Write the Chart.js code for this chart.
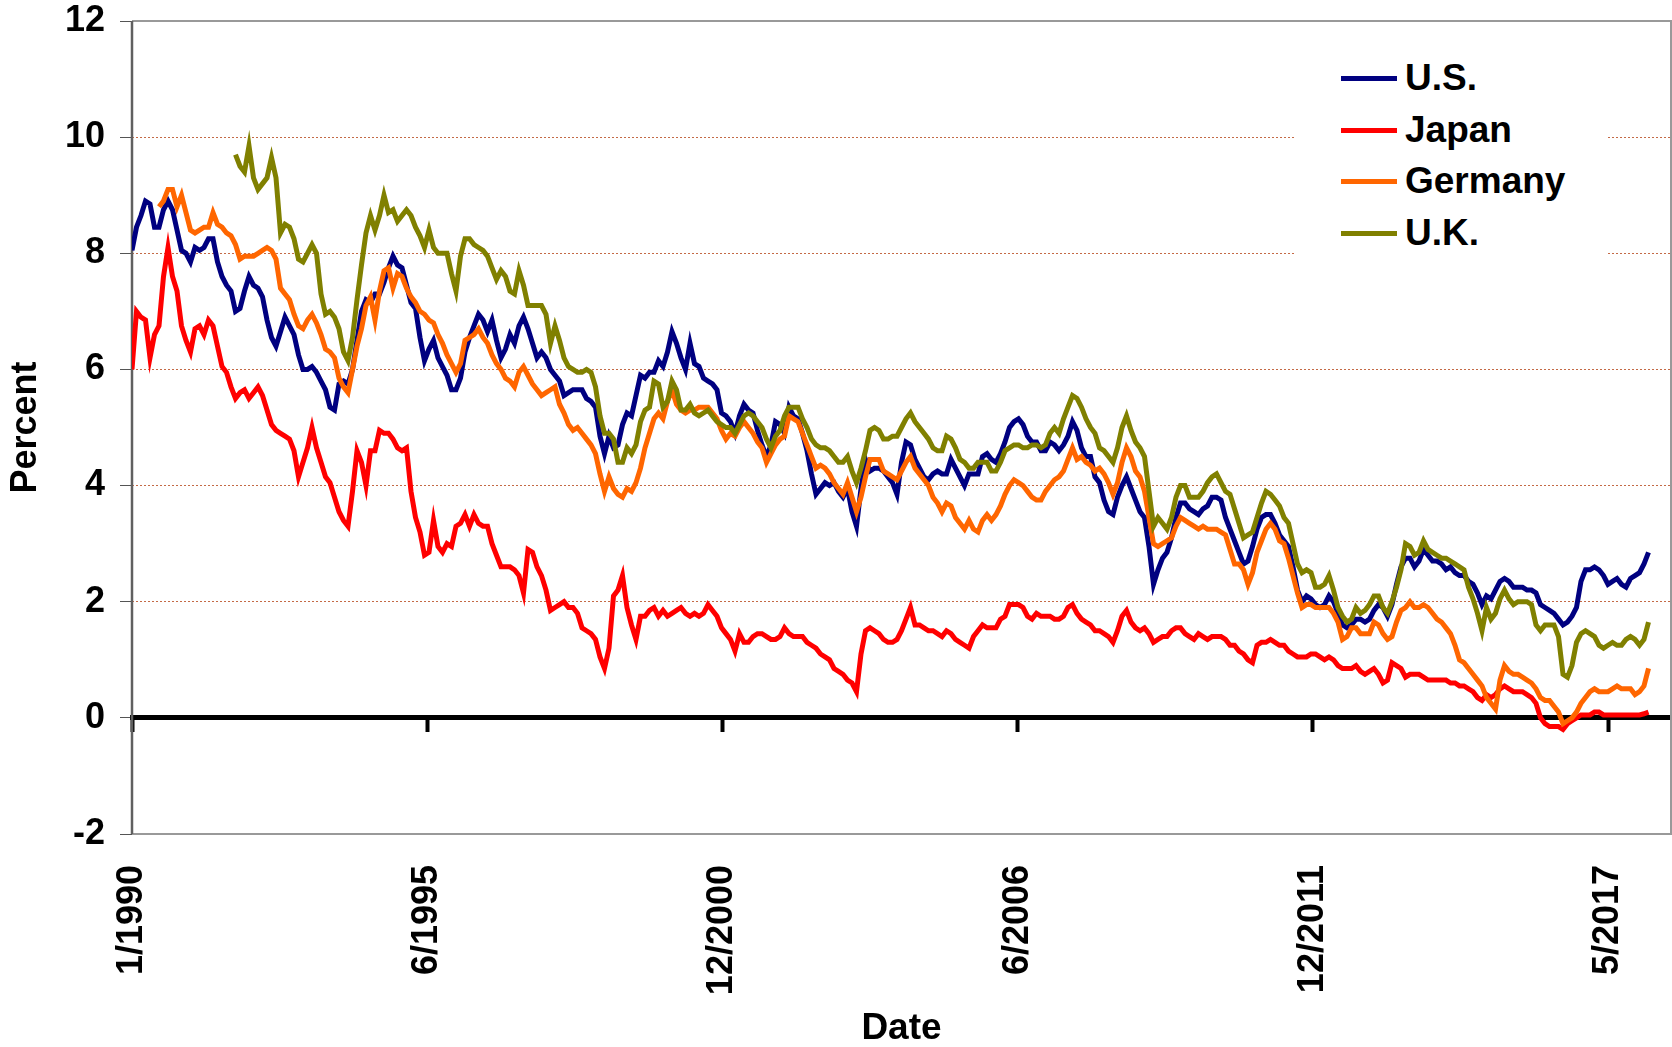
<!DOCTYPE html>
<html>
<head>
<meta charset="utf-8">
<script src="https://cdn.jsdelivr.net/npm/chart.js@4/dist/chart.umd.min.js"></script>
<style>
html,body{margin:0;padding:0;background:#fff;overflow:hidden;}
#wrap{position:relative;width:1672px;height:1047px;}
#legend{position:absolute;left:1296px;top:52px;width:311px;height:215px;background:#fff;
  font-family:"Liberation Sans",Arial,sans-serif;font-weight:bold;font-size:37px;color:#000;}
.item{position:absolute;left:45px;height:40px;line-height:40px;white-space:nowrap;}
.swatch{display:inline-block;width:56px;height:5px;vertical-align:middle;margin-right:8px;position:relative;top:-2px;}
</style>
</head>
<body>
<div id="wrap">
<canvas id="c" width="1672" height="1047"></canvas>
<div id="legend"></div>
</div>
<script>
// ---- data (monthly, starting 1/1990) ----
const tickLabels = ['1/1990','6/1995','12/2000','6/2006','12/2011','5/2017'];
const seriesNames = ['U.S.','Japan','Germany','U.K.'];
const seriesColors = ['#000080','#FF0000','#FF6600','#808000'];

const usYield = [
8.05,8.45,8.65,8.9,8.85,8.45,8.45,8.75,8.9,8.75,8.4,8.05,
8.0,7.85,8.1,8.05,8.1,8.25,8.25,7.85,7.6,7.45,7.35,7.0,
7.05,7.35,7.6,7.45,7.4,7.25,6.85,6.55,6.4,6.65,6.9,6.75,
6.6,6.25,6.0,6.0,6.05,5.95,5.8,5.65,5.35,5.3,5.75,5.8,
5.75,6.0,6.5,7.0,7.2,7.15,7.3,7.3,7.5,7.75,7.95,7.8,
7.75,7.45,7.15,7.05,6.55,6.15,6.35,6.5,6.2,6.05,5.9,5.65,
5.65,5.85,6.3,6.55,6.75,6.95,6.85,6.65,6.85,6.5,6.2,6.35,
6.6,6.45,6.75,6.9,6.7,6.45,6.2,6.3,6.2,6.0,5.9,5.8,
5.55,5.6,5.65,5.65,5.65,5.5,5.45,5.35,4.85,4.55,4.85,4.65,
4.7,5.05,5.25,5.2,5.55,5.9,5.85,5.95,5.95,6.15,6.05,6.3,
6.65,6.45,6.2,6.0,6.45,6.1,6.05,5.85,5.8,5.75,5.65,5.25,
5.2,5.1,4.9,5.2,5.4,5.3,5.25,4.95,4.7,4.5,4.7,5.1,
5.05,4.9,5.35,5.2,5.15,4.9,4.6,4.2,3.85,3.95,4.05,4.0,
4.05,3.9,3.8,3.95,3.55,3.3,3.95,4.45,4.25,4.3,4.3,4.25,
4.15,4.05,3.85,4.4,4.75,4.7,4.45,4.3,4.15,4.1,4.2,4.25,
4.2,4.2,4.45,4.3,4.15,4.0,4.2,4.2,4.2,4.5,4.55,4.45,
4.4,4.55,4.75,5.0,5.1,5.15,5.05,4.85,4.75,4.75,4.6,4.6,
4.75,4.7,4.6,4.7,4.85,5.1,4.95,4.65,4.5,4.5,4.15,4.05,
3.75,3.55,3.5,3.8,4.0,4.15,3.95,3.75,3.55,3.45,2.95,2.3,
2.55,2.75,2.85,3.1,3.45,3.7,3.7,3.6,3.55,3.5,3.6,3.65,
3.8,3.8,3.75,3.45,3.25,3.05,2.85,2.65,2.7,2.95,3.25,3.45,
3.5,3.5,3.35,3.15,3.05,2.95,2.6,2.2,2.0,2.1,2.05,1.95,
1.9,1.95,2.1,2.0,1.8,1.6,1.55,1.6,1.7,1.7,1.65,1.7,
1.85,1.95,1.9,1.75,1.95,2.3,2.6,2.75,2.75,2.6,2.7,2.9,
2.8,2.7,2.7,2.65,2.55,2.6,2.5,2.45,2.45,2.35,2.3,2.15,
1.95,2.1,2.05,2.2,2.35,2.4,2.35,2.25,2.25,2.25,2.2,2.2,
2.15,1.95,1.9,1.85,1.8,1.7,1.6,1.65,1.75,1.9,2.35,2.55,
2.55,2.6,2.55,2.45,2.3,2.35,2.4,2.3,2.25,2.4,2.45,2.5,
2.65,2.85];

const japanYield = [
6.0,7.0,6.9,6.85,6.2,6.6,6.75,7.6,8.1,7.6,7.35,6.75,
6.5,6.3,6.7,6.75,6.6,6.85,6.75,6.4,6.05,5.95,5.7,5.5,
5.6,5.65,5.5,5.6,5.7,5.55,5.3,5.05,4.95,4.9,4.85,4.8,
4.6,4.15,4.4,4.65,5.0,4.65,4.4,4.15,4.05,3.8,3.55,3.4,
3.3,3.9,4.6,4.4,4.0,4.6,4.6,4.95,4.9,4.9,4.8,4.65,
4.6,4.65,3.9,3.45,3.2,2.8,2.85,3.4,2.95,2.85,3.0,2.95,
3.3,3.35,3.5,3.3,3.5,3.35,3.3,3.3,3.0,2.8,2.6,2.6,
2.6,2.55,2.45,2.15,2.9,2.85,2.6,2.45,2.2,1.85,1.9,1.95,
2.0,1.9,1.9,1.8,1.55,1.5,1.45,1.35,1.05,0.85,1.2,2.1,
2.2,2.45,1.9,1.6,1.35,1.75,1.75,1.85,1.9,1.75,1.85,1.75,
1.8,1.85,1.9,1.8,1.75,1.8,1.75,1.8,1.95,1.85,1.75,1.55,
1.45,1.35,1.15,1.45,1.3,1.3,1.4,1.45,1.45,1.4,1.35,1.35,
1.4,1.55,1.45,1.4,1.4,1.4,1.3,1.25,1.2,1.1,1.05,1.0,
0.85,0.8,0.75,0.65,0.6,0.45,1.1,1.5,1.55,1.5,1.45,1.35,
1.3,1.3,1.35,1.5,1.7,1.9,1.6,1.6,1.55,1.5,1.5,1.45,
1.4,1.5,1.45,1.35,1.3,1.25,1.2,1.4,1.5,1.6,1.55,1.55,
1.55,1.7,1.75,1.95,1.95,1.95,1.9,1.75,1.7,1.8,1.75,1.75,
1.75,1.7,1.7,1.75,1.9,1.95,1.8,1.7,1.65,1.6,1.5,1.5,
1.45,1.4,1.3,1.5,1.75,1.85,1.65,1.55,1.5,1.55,1.45,1.3,
1.35,1.4,1.4,1.5,1.55,1.55,1.45,1.4,1.35,1.45,1.4,1.35,
1.4,1.4,1.4,1.35,1.25,1.25,1.15,1.1,1.0,0.95,1.25,1.3,
1.3,1.35,1.3,1.25,1.25,1.15,1.1,1.05,1.05,1.05,1.1,1.1,
1.05,1.0,1.05,1.0,0.9,0.85,0.85,0.85,0.9,0.8,0.75,0.8,
0.85,0.75,0.6,0.65,0.95,0.9,0.85,0.7,0.75,0.75,0.75,0.7,
0.65,0.65,0.65,0.65,0.65,0.6,0.6,0.55,0.55,0.5,0.45,0.35,
0.3,0.4,0.35,0.4,0.5,0.55,0.5,0.45,0.45,0.45,0.4,0.35,
0.25,0.0,-0.1,-0.15,-0.15,-0.15,-0.2,-0.1,-0.05,0.0,0.05,0.05,
0.05,0.1,0.1,0.05,0.05,0.05,0.05,0.05,0.05,0.05,0.05,0.05,
0.07,0.1];

const germanyYield = [
null,null,null,null,null,null,8.8,8.9,9.1,9.1,8.8,9.0,
8.7,8.4,8.35,8.4,8.45,8.45,8.7,8.5,8.45,8.35,8.3,8.15,
7.9,7.95,7.95,7.95,8.0,8.05,8.1,8.05,7.9,7.4,7.3,7.2,
6.95,6.75,6.7,6.85,6.95,6.8,6.6,6.35,6.3,6.2,5.85,5.7,
5.6,6.0,6.4,6.7,7.1,7.25,6.85,7.35,7.7,7.75,7.4,7.65,
7.6,7.4,7.25,7.15,7.0,6.95,6.85,6.8,6.6,6.45,6.25,6.1,
5.95,6.1,6.5,6.55,6.6,6.7,6.55,6.45,6.25,6.1,6.0,5.85,
5.8,5.7,5.95,6.05,5.9,5.75,5.65,5.55,5.6,5.65,5.7,5.4,
5.25,5.05,4.95,5.0,4.9,4.8,4.7,4.55,4.2,3.9,4.15,3.95,
3.85,3.8,3.95,3.9,4.05,4.3,4.65,4.9,5.15,5.25,5.15,5.45,
5.65,5.4,5.3,5.25,5.3,5.3,5.35,5.35,5.35,5.25,5.15,4.95,
4.8,4.9,4.85,5.0,5.1,5.0,4.9,4.75,4.65,4.4,4.55,4.7,
4.8,4.85,5.2,5.15,5.1,4.9,4.7,4.5,4.3,4.35,4.3,4.2,
4.05,3.95,3.85,4.05,3.8,3.55,3.8,4.15,4.45,4.45,4.45,4.25,
4.2,4.15,4.1,4.25,4.4,4.5,4.3,4.2,4.1,4.0,3.8,3.7,
3.55,3.7,3.65,3.45,3.35,3.25,3.4,3.25,3.2,3.4,3.5,3.4,
3.5,3.65,3.85,4.0,4.1,4.05,4.0,3.9,3.8,3.75,3.75,3.9,
4.0,4.1,4.15,4.25,4.45,4.65,4.45,4.5,4.4,4.35,4.25,4.3,
4.2,4.05,3.85,4.05,4.4,4.65,4.5,4.25,4.15,3.9,3.45,3.0,
2.95,3.0,3.05,3.1,3.3,3.45,3.4,3.35,3.3,3.25,3.3,3.25,
3.25,3.25,3.2,3.15,2.9,2.65,2.65,2.55,2.3,2.5,2.85,3.05,
3.25,3.35,3.25,3.05,3.0,2.75,2.45,2.15,1.9,1.95,1.95,1.9,
1.9,1.9,1.9,1.8,1.65,1.35,1.4,1.55,1.55,1.45,1.45,1.45,
1.65,1.6,1.45,1.35,1.4,1.65,1.85,1.9,2.0,1.9,1.9,1.95,
1.9,1.8,1.7,1.65,1.55,1.45,1.25,1.0,0.95,0.85,0.75,0.65,
0.55,0.35,0.25,0.15,0.65,0.9,0.8,0.75,0.75,0.7,0.65,0.6,
0.5,0.35,0.3,0.3,0.2,0.1,-0.1,-0.05,0.0,0.1,0.25,0.35,
0.45,0.5,0.45,0.45,0.45,0.5,0.55,0.5,0.5,0.5,0.4,0.45,
0.55,0.85];

const ukYield = [
null,null,null,null,null,null,null,null,null,null,null,null,
null,null,null,null,null,null,null,null,null,null,null,9.7,
9.5,9.4,9.85,9.3,9.1,9.2,9.3,9.65,9.3,8.35,8.5,8.45,
8.25,7.9,7.85,8.0,8.15,8.0,7.3,6.95,7.0,6.9,6.7,6.3,
6.15,6.55,7.2,7.8,8.35,8.65,8.4,8.65,9.0,8.7,8.75,8.55,
8.65,8.75,8.65,8.45,8.3,8.1,8.4,8.1,8.0,8.0,8.0,7.65,
7.35,7.95,8.25,8.25,8.15,8.1,8.05,7.95,7.75,7.55,7.7,7.6,
7.35,7.3,7.7,7.45,7.1,7.1,7.1,7.1,6.95,6.45,6.75,6.5,
6.2,6.05,6.0,5.95,5.95,6.0,5.95,5.7,5.2,4.9,4.9,4.8,
4.4,4.4,4.65,4.55,4.7,5.1,5.3,5.35,5.8,5.75,5.35,5.45,
5.8,5.65,5.3,5.3,5.4,5.25,5.2,5.25,5.3,5.2,5.1,5.05,
5.0,5.0,4.9,5.05,5.2,5.25,5.2,5.1,5.0,4.8,4.65,4.85,
4.95,5.2,5.35,5.35,5.35,5.15,5.0,4.8,4.7,4.65,4.65,4.6,
4.5,4.4,4.4,4.5,4.25,4.05,4.3,4.6,4.95,5.0,4.95,4.8,
4.8,4.85,4.85,5.0,5.15,5.25,5.1,5.0,4.9,4.8,4.65,4.6,
4.6,4.85,4.8,4.65,4.45,4.4,4.3,4.3,4.4,4.4,4.4,4.25,
4.25,4.4,4.6,4.65,4.7,4.7,4.65,4.65,4.7,4.7,4.65,4.7,
4.9,5.0,4.9,5.15,5.35,5.55,5.5,5.35,5.15,5.0,4.9,4.65,
4.6,4.5,4.4,4.65,5.0,5.2,4.95,4.75,4.65,4.5,3.9,3.3,
3.45,3.35,3.25,3.45,3.8,4.0,4.0,3.8,3.8,3.8,3.9,4.05,
4.15,4.2,4.05,3.9,3.85,3.6,3.35,3.1,3.15,3.2,3.45,3.7,
3.9,3.85,3.75,3.65,3.45,3.35,3.0,2.65,2.5,2.55,2.5,2.25,
2.25,2.3,2.45,2.2,1.9,1.75,1.65,1.7,1.9,1.8,1.85,1.95,
2.1,2.1,1.9,1.8,2.0,2.25,2.55,3.0,2.95,2.8,2.85,3.05,
2.9,2.85,2.8,2.75,2.75,2.7,2.65,2.6,2.55,2.25,2.05,1.8,
1.5,1.9,1.7,1.8,2.05,2.2,2.05,1.95,2.0,2.0,2.0,1.95,
1.6,1.5,1.6,1.6,1.6,1.4,0.75,0.7,0.9,1.3,1.45,1.5,
1.45,1.4,1.25,1.2,1.25,1.3,1.25,1.25,1.35,1.4,1.35,1.25,
1.35,1.65];

// ---- helpers ----
const FONT = '"Liberation Sans", Arial, sans-serif';
const X_MAX = 342;
const monthIndex = lbl => { const p = lbl.split('/').map(Number); return (p[1] - 1990) * 12 + (p[0] - 1); };
// labelled ticks are evenly spaced (every N observations) between the first and last label
const firstIdx = monthIndex(tickLabels[0]);
const lastIdx = monthIndex(tickLabels[tickLabels.length - 1]);
const tickPos = tickLabels.map((_, i) => firstIdx + i * (lastIdx - firstIdx) / (tickLabels.length - 1));
const toPoints = arr => arr.map((v, i) => ({x: i, y: v}));
const setTicks = s => { s.ticks = tickPos.map(v => ({value: v})); };
const noPad = s => { s.paddingLeft = 0; s.paddingRight = 0; };
const allSeries = [usYield, japanYield, germanyYield, ukYield];

// legend (HTML, real text)
const legendEl = document.getElementById('legend');
const rowCenters = [26, 78, 129, 181];
seriesNames.forEach((n, i) => {
  const d = document.createElement('div');
  d.className = 'item';
  d.style.top = (rowCenters[i] - 20) + 'px';
  d.innerHTML = '<span class="swatch" style="background:' + seriesColors[i] + '"></span>' + n;
  legendEl.appendChild(d);
});

const plotBorder = {
  id: 'plotBorder',
  beforeDatasetsDraw(chart) {
    const {ctx, chartArea: a} = chart;
    ctx.save();
    ctx.strokeStyle = '#999999';
    ctx.lineWidth = 2;
    ctx.beginPath();
    ctx.moveTo(a.left, a.top); ctx.lineTo(a.right, a.top); ctx.lineTo(a.right, a.bottom); ctx.lineTo(a.left, a.bottom);
    ctx.stroke();
    ctx.strokeStyle = '#606060';
    ctx.lineWidth = 2.5;
    ctx.beginPath();
    ctx.moveTo(a.left, a.top); ctx.lineTo(a.left, a.bottom);
    ctx.stroke();
    ctx.restore();
  }
};

new Chart(document.getElementById('c'), {
  type: 'line',
  data: {
    datasets: seriesNames.map((n, i) => ({
      label: n,
      data: toPoints(allSeries[i]),
      borderColor: seriesColors[i],
      backgroundColor: seriesColors[i],
      borderWidth: 5,
      pointRadius: 0,
      tension: 0,
      fill: false,
      spanGaps: false,
      order: 4 - i
    }))
  },
  options: {
    responsive: false,
    animation: false,
    devicePixelRatio: 1,
    layout: {padding: {top: 21, right: 1, bottom: 0, left: 0}},
    plugins: {legend: {display: false}, tooltip: {enabled: false}},
    scales: {
      x: {
        type: 'linear', position: 'bottom', min: 0, max: X_MAX,
        afterBuildTicks: setTicks,
        afterFit: s => { s.height = 213; noPad(s); },
        grid: {display: false, drawTicks: false},
        border: {display: false},
        ticks: {
          autoSkip: false, maxRotation: 90, minRotation: 90, padding: 31,
          color: '#000', font: {family: FONT, size: 36, weight: 'bold'},
          callback: v => { const k = tickPos.indexOf(v); return k >= 0 ? tickLabels[k] : ''; }
        },
        title: {display: true, text: 'Date', color: '#000',
          font: {family: FONT, size: 37, weight: 'bold', lineHeight: 1}, padding: {top: 0, bottom: 0}}
      },
      x0: {
        type: 'linear', axis: 'x', position: {y: 0}, min: 0, max: X_MAX,
        afterBuildTicks: setTicks,
        afterFit: s => { s.height = 0; noPad(s); },
        ticks: {display: false},
        grid: {drawOnChartArea: false, drawTicks: true, tickLength: 12, tickWidth: 4, tickColor: '#000'},
        border: {display: true, color: '#000', width: 5}
      },
      y: {
        min: -2, max: 12,
        afterFit: s => { s.width = 132; s.paddingTop = 0; s.paddingBottom = 0; },
        ticks: {stepSize: 2, padding: 15, color: '#000', font: {family: FONT, size: 36, weight: 'bold'}},
        grid: {
          color: c => ([2, 4, 6, 8, 10].includes(c.tick.value) ? '#C46A46' : 'rgba(0,0,0,0)'),
          lineWidth: 1, drawTicks: true, tickLength: 12, tickWidth: 1, tickColor: '#555555', tickBorderDash: []
        },
        border: {display: false, dash: [2, 2]},
        title: {display: true, text: 'Percent', color: '#000',
          font: {family: FONT, size: 36, weight: 'bold', lineHeight: 1.2}, padding: {top: 4, bottom: 0}}
      }
    }
  },
  plugins: [plotBorder]
});
</script>
</body>
</html>
